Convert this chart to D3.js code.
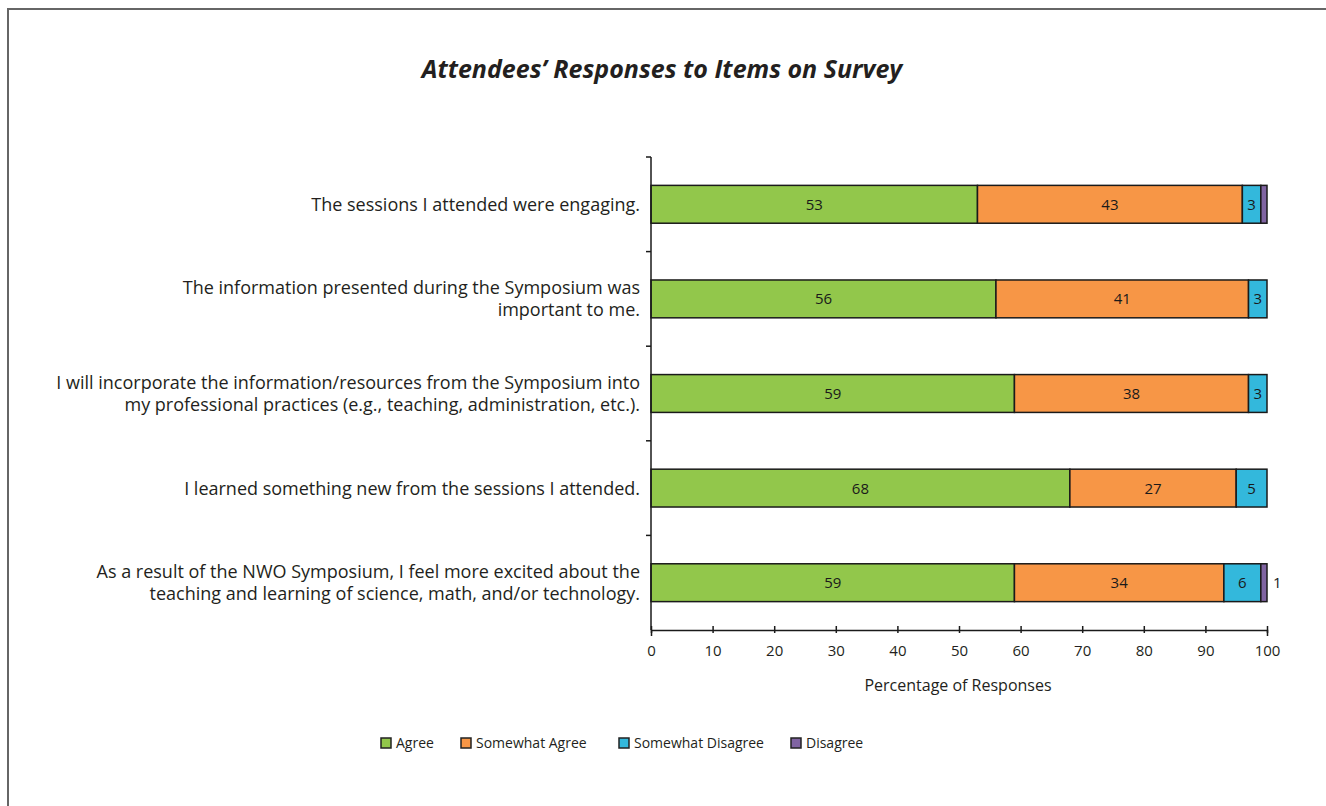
<!DOCTYPE html>
<html>
<head>
<meta charset="utf-8">
<script src="https://cdn.jsdelivr.net/npm/d3@7"></script>
<style>
  body { margin: 0; background: #fff; }
  svg { display: block; }
</style>
</head>
<body>
<div class="chart"></div>
<script>
var width = 1326,
    height = 806;

// Survey items, top to bottom ("|" marks a line break)
var categories = [
  "The sessions I attended were engaging.",
  "The information presented during the Symposium was|important to me.",
  "I will incorporate the information/resources from the Symposium into|my professional practices (e.g., teaching, administration, etc.).",
  "I learned something new from the sessions I attended.",
  "As a result of the NWO Symposium, I feel more excited about the|teaching and learning of science, math, and/or technology."
];

var seriesNames = ["Agree", "Somewhat Agree", "Somewhat Disagree", "Disagree"];
var agree = [53, 56, 59, 68, 59];
var somewhatAgree = [43, 41, 38, 27, 34];
var somewhatDisagree = [3, 3, 3, 5, 6];
var disagree = [1, 0, 0, 0, 1];
// only the last row shows its "Disagree" value (outside the bar)
var disagreeLabels = ["", "", "", "", "1"];
var xTicks = [0, 10, 20, 30, 40, 50, 60, 70, 80, 90, 100];

var colors = ["#92c74b", "#f79646", "#33b8dc", "#8064a2"];

var rows = categories.map(function(c, i) {
  return {
    cat: c,
    "Agree": agree[i],
    "Somewhat Agree": somewhatAgree[i],
    "Somewhat Disagree": somewhatDisagree[i],
    "Disagree": disagree[i],
    dLabel: disagreeLabels[i]
  };
});

var svg = d3.select(".chart")
  .append("svg")
    .attr("width", width)
    .attr("height", height);

// frame
svg.append("path")
  .attr("d", "M8,806 L8,9 L1326,9")
  .attr("fill", "none")
  .attr("stroke", "#666")
  .attr("stroke-width", 2);

// title
svg.append("text")
  .attr("x", 662)
  .attr("y", 78)
  .attr("text-anchor", "middle")
  .style("font-family", '"Open Sans", sans-serif')
  .style("font-size", "25px")
  .style("font-weight", "700")
  .style("font-style", "italic")
  .style("fill", "#231f20")
  .text("Attendees\u2019 Responses to Items on Survey");

var x = d3.scaleLinear()
  .domain([0, 100])
  .range([651, 1267]);

var y = d3.scaleBand()
  .domain(categories)
  .range([157, 630])
  .paddingInner(0.6)
  .paddingOuter(0.3);

var color = d3.scaleOrdinal()
  .domain(seriesNames)
  .range(colors);

var stacked = d3.stack().keys(seriesNames)(rows);

// bars
var layers = svg.append("g")
  .selectAll("g")
  .data(stacked)
  .enter()
  .append("g")
    .attr("fill", function(d) { return color(d.key); });

layers.selectAll("rect")
  .data(function(d) { return d.filter(function(p) { return p[1] > p[0]; }); })
  .enter()
  .append("rect")
    .attr("x", function(d) { return x(d[0]); })
    .attr("y", function(d) { return y(d.data.cat); })
    .attr("width", function(d) { return x(d[1]) - x(d[0]); })
    .attr("height", y.bandwidth())
    .attr("stroke", "#1a1a1a")
    .attr("stroke-width", 1.5);

// values inside the segments
layers.each(function(layer) {
  if (layer.key === "Disagree") return;
  d3.select(this).selectAll("text")
    .data(layer.filter(function(p) { return p[1] > p[0]; }))
    .enter()
    .append("text")
      .attr("x", function(d) { return (x(d[0]) + x(d[1])) / 2; })
      .attr("y", function(d) { return y(d.data.cat) + y.bandwidth() / 2; })
      .attr("dy", "0.36em")
      .attr("text-anchor", "middle")
      .style("font-family", '"Open Sans", sans-serif')
      .style("font-size", "15px")
      .style("fill", "#1a1a1a")
      .text(function(d) { return d[1] - d[0]; });
});

// disagree value outside the bar
svg.append("g")
  .selectAll("text")
  .data(rows.filter(function(r) { return r.dLabel !== ""; }))
  .enter()
  .append("text")
    .attr("x", x(100) + 6)
    .attr("y", function(d) { return y(d.cat) + y.bandwidth() / 2; })
    .attr("dy", "0.36em")
    .style("font-family", '"Open Sans", sans-serif')
    .style("font-size", "15px")
    .style("fill", "#1a1a1a")
    .text(function(d) { return d.dLabel; });

// x axis
var xAxis = svg.append("g")
  .attr("transform", "translate(0,630)")
  .call(d3.axisBottom(x).tickValues(xTicks).tickSizeOuter(0).tickSize(6).tickPadding(9));

xAxis.select(".domain").attr("stroke", "#1a1a1a").attr("stroke-width", 1.5);
xAxis.selectAll(".tick line").attr("stroke", "#1a1a1a").attr("stroke-width", 1.5).attr("y1", -4).attr("y2", 3);
xAxis.selectAll("text")
  .style("font-family", '"Open Sans", sans-serif')
  .style("font-size", "15px")
  .style("fill", "#231f20");

svg.append("text")
  .attr("x", (x(0) + x(100)) / 2 - 1)
  .attr("y", 691)
  .attr("text-anchor", "middle")
  .style("font-family", '"Open Sans", sans-serif')
  .style("font-size", "16px")
  .style("fill", "#231f20")
  .text("Percentage of Responses");

// y axis line with ticks at the band boundaries
var step = y.step();
var boundaries = categories.map(function(c) { return y(c) - (step - y.bandwidth()) / 2; });

svg.append("line")
  .attr("x1", x(0)).attr("x2", x(0))
  .attr("y1", boundaries[0]).attr("y2", 630)
  .attr("stroke", "#1a1a1a")
  .attr("stroke-width", 1.5);

svg.append("g")
  .selectAll("line")
  .data(boundaries)
  .enter()
  .append("line")
    .attr("x1", x(0) - 5).attr("x2", x(0))
    .attr("y1", function(d) { return d; })
    .attr("y2", function(d) { return d; })
    .attr("stroke", "#1a1a1a")
    .attr("stroke-width", 1.5);

// category labels
var labels = svg.append("g")
  .selectAll("text")
  .data(categories)
  .enter()
  .append("text")
    .attr("text-anchor", "end")
    .style("font-family", '"Open Sans", sans-serif')
    .style("font-size", "18px")
    .style("fill", "#231f20");

labels.each(function(c) {
  var lines = c.split("|");
  var cy = y(c) + y.bandwidth() / 2;
  var lh = 22;
  var t = d3.select(this);
  lines.forEach(function(l, i) {
    t.append("tspan")
      .attr("x", 640)
      .attr("y", cy + (i - (lines.length - 1) / 2) * lh)
      .attr("dy", "0.36em")
      .text(l);
  });
});

// legend
var legendX = [381, 461, 619, 791];
var legend = svg.append("g")
  .selectAll("g")
  .data(seriesNames)
  .enter()
  .append("g")
    .attr("transform", function(d, i) { return "translate(" + legendX[i] + ",743)"; });

legend.append("rect")
  .attr("x", 0)
  .attr("y", -5)
  .attr("width", 10)
  .attr("height", 10)
  .attr("fill", function(d) { return color(d); })
  .attr("stroke", "#222")
  .attr("stroke-width", 1.5);

legend.append("text")
  .attr("x", 15)
  .attr("y", 0)
  .attr("dy", "0.36em")
  .style("font-family", '"Open Sans", sans-serif')
  .style("font-size", "14px")
  .style("fill", "#231f20")
  .text(function(d) { return d; });
</script>
</body>
</html>
